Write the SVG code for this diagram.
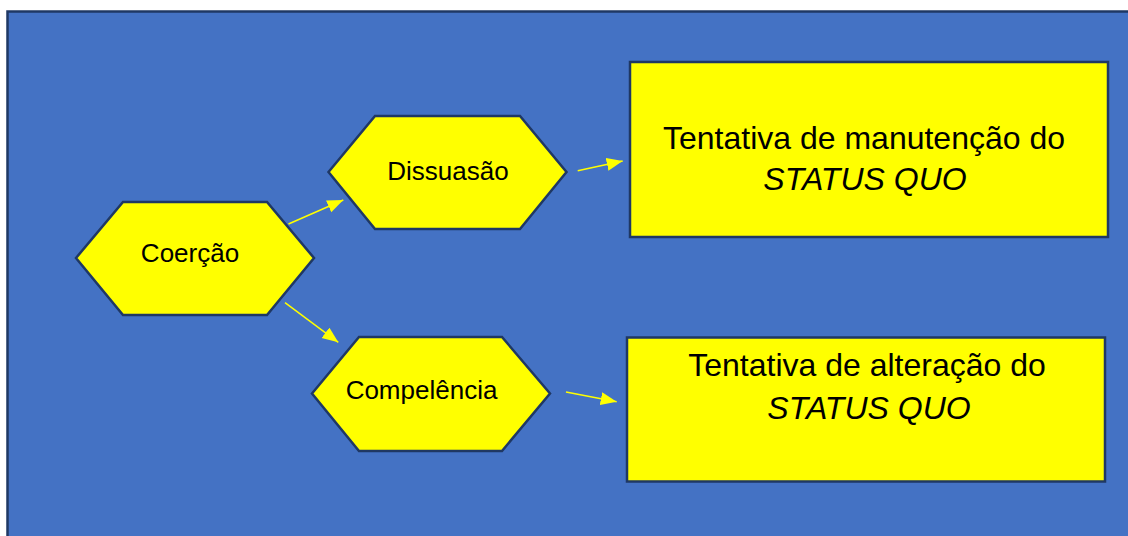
<svg xmlns="http://www.w3.org/2000/svg" width="1128" height="536" viewBox="0 0 1128 536">
<style>
.bg{fill:#4472C4;stroke:#1F3864;stroke-width:2.5}
.shape{fill:#FFFF00;stroke:#1F3864;stroke-width:2.5;stroke-linejoin:miter}
.conn{stroke:#FFFF00;stroke-width:1.5;fill:none}
text{font-family:"Liberation Sans",Arial,sans-serif;fill:#000;text-anchor:middle}
.hex{font-size:26px}
.big{font-size:32px}
.it{font-style:italic}
</style>
<defs>
<marker id="arr" markerUnits="userSpaceOnUse" markerWidth="17" markerHeight="14" refX="16" refY="6.5" orient="auto">
<path d="M0,0 L16,6.5 L0,13 z" fill="#FFFF00"/>
</marker>
</defs>
<rect class="bg" x="7.5" y="11.5" width="1130" height="540"/>
<g id="coercao">
<polygon class="shape" points="76,258 123,202 267,202 314,258 267,315 123,315"/>
<text class="hex" x="190" y="262">Coerção</text>
</g>
<g id="dissuasao">
<polygon class="shape" points="328.5,172 375,116 520,116 566.5,172 520,229 375,229"/>
<text class="hex" x="448" y="180">Dissuasão</text>
</g>
<g id="compelencia">
<polygon class="shape" points="312,393.5 359,337 502,337 550,393.5 502,451 359,451"/>
<text class="hex" x="421.5" y="399">Compelência</text>
</g>
<g id="manutencao">
<rect class="shape" x="630" y="62" width="478" height="175"/>
<text class="big" x="864" y="149">Tentativa de manutenção do</text>
<text class="big it" x="865" y="190">STATUS QUO</text>
</g>
<g id="alteracao">
<rect class="shape" x="627" y="337.5" width="478" height="144"/>
<text class="big" x="867" y="376">Tentativa de alteração do</text>
<text class="big it" x="869" y="419">STATUS QUO</text>
</g>
<g id="connectors">
<line class="conn" x1="288.5" y1="224" x2="343.3" y2="200" marker-end="url(#arr)"/>
<line class="conn" x1="285" y1="302.7" x2="338.3" y2="342.3" marker-end="url(#arr)"/>
<line class="conn" x1="577.7" y1="170.7" x2="622.7" y2="161" marker-end="url(#arr)"/>
<line class="conn" x1="566" y1="392" x2="616.7" y2="401.7" marker-end="url(#arr)"/>
</g>
</svg>
